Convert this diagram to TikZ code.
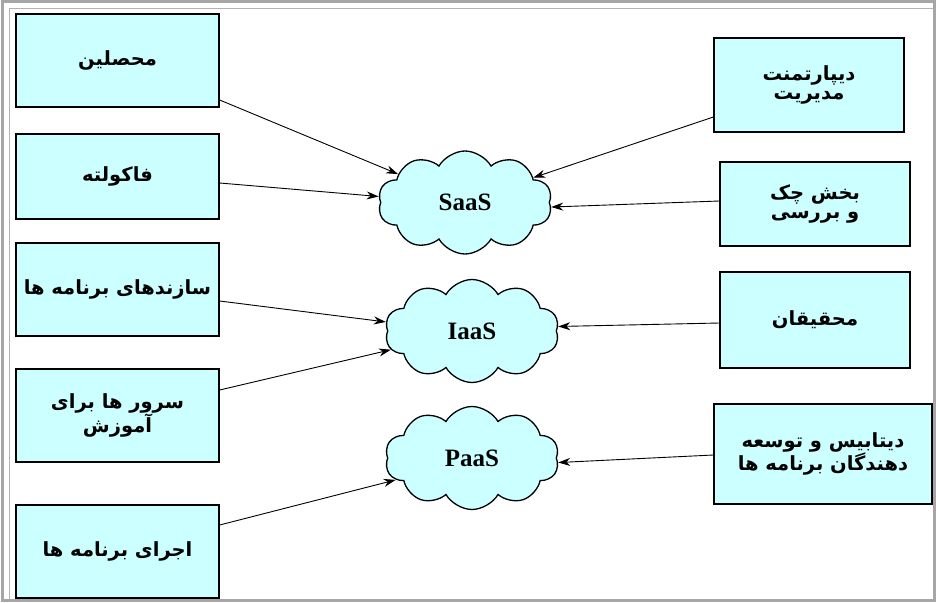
\documentclass[tikz,border=0pt]{standalone}
\usepackage{fontspec}
\usetikzlibrary{arrows.meta, positioning, shapes.symbols}
\TeXXeTstate=1
\newfontfamily\arabicfont[Script=Arabic]{DejaVu Sans}
\newfontfamily\latinserif{Liberation Serif}
\definecolor{boxfill}{RGB}{204,255,255}

\begin{document}
\begin{tikzpicture}[x=1pt, y=-1pt, >={Stealth[length=12pt,width=8pt]}, line width=0.9pt,
    box/.style={draw, line width=1.3pt, fill=boxfill, minimum width=#1, inner sep=2pt, align=center,
        font=\arabicfont\bfseries\fontsize{19.5}{18.5}\selectfont},
    box/.default=203pt,
    cloudnode/.style={cloud, cloud puffs=10, cloud puff arc=120, draw, line width=1.3pt, fill=boxfill,
        minimum width=174pt, minimum height=103pt, font=\latinserif\bfseries\fontsize{25}{26}\selectfont}]
    \useasboundingbox (0,0) rectangle (936,602);
    \draw[gray!70, line width=3pt] (2,2) rectangle (934,600);
    \draw[gray!60, line width=1pt] (9,599) -- (9,9) -- (933,9);

    % left column
    \node[box, minimum height=93pt] (mohasel) at (117.5,60.5) {\beginR محصلین\endR};
    \node[box, minimum height=85pt] (fakulte) at (117.5,176.5) {\beginR فاکولته\endR};
    \node[box, minimum height=93pt] (sazande) at (117.5,289.5) {\beginR سازندهای برنامه ها\endR};
    \node[box, minimum height=93pt] (server) at (117.5,415.5) {\beginR سرور ها برای\endR\\\beginR آموزش\endR};
    \node[box, minimum height=93pt] (ejra) at (117.5,551.5) {\beginR اجرای برنامه ها\endR};

    % clouds
    \node[cloudnode] (saas) at (465,202.5) {SaaS};
    \node[cloudnode] (iaas) at (472,331) {IaaS};
    \node[cloudnode] (paas) at (472,458) {PaaS};

    % right column
    \node[box=190pt, minimum height=94pt] (depart) at (809,85) {\beginR دیپارتمنت\endR\\\beginR مدیریت\endR};
    \node[box=190pt, minimum height=84pt] (bakhsh) at (815,204) {\beginR بخش چک\endR\\\beginR و بررسی\endR};
    \node[box=190pt, minimum height=96pt] (mohaq) at (815,320) {\beginR محقیقان\endR};
    \node[box=218pt, minimum height=100pt] (datab) at (823,454) {\beginR دیتابیس و توسعه\endR\\\beginR دهندگان برنامه ها\endR};

    \path[->]
    ([yshift=-39.5]mohasel.east) edge (saas.157)
    ([yshift=-6.5]fakulte.east) edge (saas.176)
    ([yshift=-11.5]sazande.east) edge (iaas.174)
    ([yshift=25.5]server.east) edge (iaas.193)
    ([yshift=26.5]ejra.east) edge (paas.196)
    ([yshift=-32]depart.west) edge (saas.20)
    ([yshift=3]bakhsh.west) edge (saas.357)
    ([yshift=-3]mohaq.west) edge (iaas.3)
    ([yshift=-1]datab.west) edge (paas.357);
\end{tikzpicture}
\end{document}
